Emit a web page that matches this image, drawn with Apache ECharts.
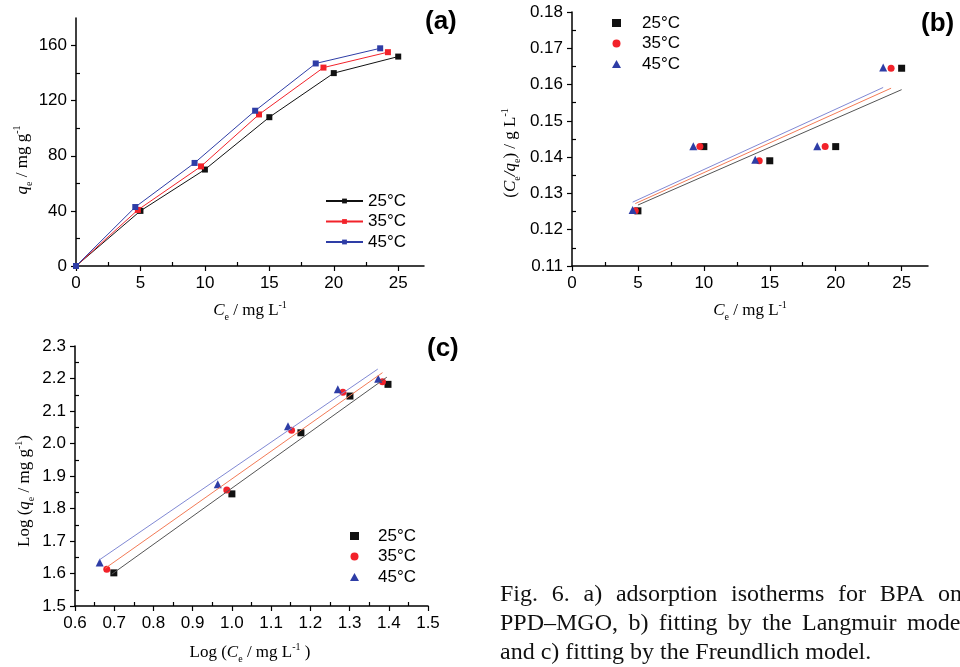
<!DOCTYPE html>
<html>
<head>
    <meta charset="utf-8">
    <title>Fig. 6 adsorption isotherms</title>
    <script src="https://cdn.jsdelivr.net/npm/echarts@6/dist/echarts.min.js"></script>
    <style>
        html, body { margin: 0; padding: 0; background: #fff; }
        #chart { width: 960px; height: 667px; }
    </style>
</head>
<body>
<div id="chart"></div>
<script type="text/javascript">
    // ---- data ----
    var labels = ['25°C', '35°C', '45°C'];

    // (a) adsorption isotherms: Ce (mg/L) vs qe (mg/g)
    var ceA25 = [0, 5, 10, 15, 20, 25];
    var qeA25 = [0, 40, 70, 108, 140, 152];
    var ceA35 = [0, 4.8, 9.7, 14.2, 19.2, 24.2];
    var qeA35 = [0, 40.7, 72.3, 110, 144, 155.2];
    var ceA45 = [0, 4.6, 9.2, 13.9, 18.6, 23.6];
    var qeA45 = [0, 42.8, 74.8, 112.7, 147, 158];

    // (b) Langmuir: Ce vs Ce/qe
    var ceB25 = [5, 10, 15, 20, 25];
    var ratioB25 = [0.1252, 0.1429, 0.1390, 0.1429, 0.1645];
    var ceB35 = [4.8, 9.7, 14.2, 19.2, 24.2];
    var ratioB35 = [0.1252, 0.1429, 0.1390, 0.1429, 0.1645];
    var ceB45 = [4.6, 9.2, 13.9, 18.6, 23.6];
    var ratioB45 = [0.1254, 0.1430, 0.1393, 0.1430, 0.1647];
    // fitted lines (end points)
    var fitBx25 = [5, 25],     fitBy25 = [0.1268, 0.1586];
    var fitBx35 = [4.8, 24.2], fitBy35 = [0.1272, 0.1590];
    var fitBx45 = [4.6, 23.6], fitBy45 = [0.1276, 0.1592];

    // (c) Freundlich: log Ce vs log qe
    var logCe25 = [0.699, 1.000, 1.176, 1.301, 1.398];
    var logQe25 = [1.602, 1.845, 2.033, 2.146, 2.182];
    var logCe35 = [0.681, 0.987, 1.152, 1.283, 1.384];
    var logQe35 = [1.613, 1.857, 2.041, 2.158, 2.190];
    var logCe45 = [0.663, 0.964, 1.143, 1.270, 1.373];
    var logQe45 = [1.634, 1.875, 2.053, 2.167, 2.199];
    var fitCx25 = [0.694, 1.395], fitCy25 = [1.598, 2.204];
    var fitCx35 = [0.677, 1.384], fitCy35 = [1.616, 2.218];
    var fitCx45 = [0.661, 1.372], fitCy45 = [1.641, 2.229];

    // tick values
    var ticksAX = [0, 5, 10, 15, 20, 25];
    var minorAX = [2.5, 7.5, 12.5, 17.5, 22.5];
    var ticksAY = [0, 40, 80, 120, 160];
    var minorAY = [20, 60, 100, 140];
    var ticksBY = [0.11, 0.12, 0.13, 0.14, 0.15, 0.16, 0.17, 0.18];
    var minorBY = [0.115, 0.125, 0.135, 0.145, 0.155, 0.165, 0.175];
    var ticksCX = [0.6, 0.7, 0.8, 0.9, 1.0, 1.1, 1.2, 1.3, 1.4, 1.5];
    var minorCX = [0.65, 0.75, 0.85, 0.95, 1.05, 1.15, 1.25, 1.35, 1.45];
    var ticksCY = [1.5, 1.6, 1.7, 1.8, 1.9, 2.0, 2.1, 2.2, 2.3];
    var minorCY = [1.55, 1.65, 1.75, 1.85, 1.95, 2.05, 2.15, 2.25];

    var captionLines = [
        'Fig. 6. a) adsorption isotherms for BPA onto',
        'PPD–MGO, b) fitting by the Langmuir model',
        'and c) fitting by the Freundlich model.'
    ];

    var colors = ['#111111', '#f2222a', '#2e3da6'];
    var fitColors = ['#555555', '#f37b57', '#8189d4'];
    var sans = '"Liberation Sans", Arial, sans-serif';
    var serif = '"Liberation Serif", "Times New Roman", serif';

    function pairs(xs, ys) {
        return xs.map(function (x, i) { return [x, ys[i]]; });
    }

    // main axis: ticks outward with labels
    function mainAxis(pos, grid, min, max, ticks, digits) {
        return {
            type: 'value', gridIndex: grid, min: min, max: max, position: pos,
            axisLine: {show: true, onZero: false, lineStyle: {color: '#000', width: 1.5}},
            axisTick: {show: true, inside: false, length: 5, customValues: ticks, lineStyle: {color: '#000', width: 1.2}},
            axisLabel: {
                customValues: ticks, margin: 9, color: '#000', fontFamily: sans, fontSize: 17,
                formatter: function (v) { return digits == null ? String(v) : Number(v).toFixed(digits); }
            },
            splitLine: {show: false}
        };
    }
    // minor axis: ticks inward, nothing else
    function minorAxis(pos, grid, min, max, ticks) {
        return {
            type: 'value', gridIndex: grid, min: min, max: max, position: pos, offset: 0,
            axisLine: {show: false, onZero: false},
            axisTick: {show: true, inside: true, length: 4, customValues: ticks, lineStyle: {color: '#000', width: 1.2}},
            axisLabel: {show: false},
            splitLine: {show: false}
        };
    }

    function legend(names, left, top, w, h, textPad) {
        return {
            data: names, left: left, top: top, orient: 'vertical', padding: 0,
            itemWidth: w, itemHeight: h, itemGap: 0.5, selectedMode: false,
            formatter: function (name) { return labels[names.indexOf(name)]; },
            textStyle: {fontFamily: sans, fontSize: 17, color: '#000', lineHeight: 20, padding: [0, 0, 0, textPad]}
        };
    }

    var richTitle = {
        n: {fontFamily: serif, fontSize: 17, lineHeight: 22, color: '#222'},
        i: {fontFamily: serif, fontSize: 17, lineHeight: 22, fontStyle: 'italic', color: '#222'},
        sub: {fontFamily: serif, fontSize: 10, lineHeight: 10, verticalAlign: 'bottom', color: '#222'},
        sup: {fontFamily: serif, fontSize: 10, lineHeight: 10, verticalAlign: 'top', color: '#222'}
    };
    function title(text, x, y, rot) {
        return {
            type: 'text', x: x, y: y, rotation: rot ? Math.PI / 2 : 0,
            style: {text: text, rich: richTitle, align: 'center', verticalAlign: 'middle'}
        };
    }
    function panelTag(text, x, y) {
        return {
            type: 'text', x: x, y: y,
            style: {text: text, fontFamily: sans, fontWeight: 'bold', fontSize: 26, fill: '#000', align: 'left', verticalAlign: 'middle'}
        };
    }

    // caption, justified like the printed column (last word start)
    var capFont = '24px "Liberation Serif", "Times New Roman", serif';
    var capLeft = 500;
    var capLastStart = [938, 907, null];
    var captionY = [595, 624, 653];
    var ctx = document.createElement('canvas').getContext('2d');
    ctx.font = capFont;
    var caption = [];
    captionLines.forEach(function (line, li) {
        var words = line.split(' ');
        var space = ctx.measureText(' ').width;
        if (capLastStart[li] != null) {
            var w = 0;
            for (var j = 0; j < words.length - 1; j++) w += ctx.measureText(words[j]).width;
            space = (capLastStart[li] - capLeft - w) / (words.length - 1);
        }
        var x = capLeft;
        words.forEach(function (word) {
            caption.push({
                type: 'text', x: x, y: captionY[li],
                style: {text: word, font: capFont, fill: '#111', align: 'left', verticalAlign: 'middle'}
            });
            x += ctx.measureText(word).width + space;
        });
    });

    var markerB = ['rect', 'circle', 'triangle'];
    var markerSize = [7, 7, 8];

    var series = [];
    // (a)
    [[ceA25, qeA25], [ceA35, qeA35], [ceA45, qeA45]].forEach(function (d, k) {
        series.push({
            name: 'a' + k, type: 'line', xAxisIndex: 0, yAxisIndex: 0,
            data: pairs(d[0], d[1]), symbol: 'rect', symbolSize: 6,
            lineStyle: {color: colors[k], width: 1}, itemStyle: {color: colors[k]}
        });
    });
    // (b) fits then points
    [[fitBx25, fitBy25], [fitBx35, fitBy35], [fitBx45, fitBy45]].forEach(function (d, k) {
        series.push({
            name: 'bfit' + k, type: 'line', xAxisIndex: 1, yAxisIndex: 1,
            data: pairs(d[0], d[1]), symbol: 'none', silent: true,
            lineStyle: {color: fitColors[k], width: 1}
        });
    });
    [[ceB25, ratioB25], [ceB35, ratioB35], [ceB45, ratioB45]].forEach(function (d, k) {
        series.push({
            name: 'b' + k, type: 'scatter', xAxisIndex: 1, yAxisIndex: 1,
            data: pairs(d[0], d[1]), symbol: markerB[k], symbolSize: markerSize[k],
            itemStyle: {color: colors[k], opacity: 1}
        });
    });
    // (c)
    [[fitCx25, fitCy25], [fitCx35, fitCy35], [fitCx45, fitCy45]].forEach(function (d, k) {
        series.push({
            name: 'cfit' + k, type: 'line', xAxisIndex: 2, yAxisIndex: 2,
            data: pairs(d[0], d[1]), symbol: 'none', silent: true,
            lineStyle: {color: fitColors[k], width: 1}
        });
    });
    [[logCe25, logQe25], [logCe35, logQe35], [logCe45, logQe45]].forEach(function (d, k) {
        series.push({
            name: 'c' + k, type: 'scatter', xAxisIndex: 2, yAxisIndex: 2,
            data: pairs(d[0], d[1]), symbol: markerB[k], symbolSize: markerSize[k],
            itemStyle: {color: colors[k], opacity: 1}
        });
    });

    var myChart = echarts.init(document.getElementById('chart'), null, {renderer: 'canvas'});
    myChart.setOption({
        animation: false,
        backgroundColor: '#fff',
        grid: [
            {left: 76, top: 18, width: 348, height: 248, outerBoundsMode: 'none'},
            {left: 572, top: 12, width: 356, height: 254, outerBoundsMode: 'none'},
            {left: 75, top: 346, width: 353, height: 260, outerBoundsMode: 'none'}
        ],
        xAxis: [
            mainAxis('bottom', 0, 0, 27, ticksAX, null),
            mainAxis('bottom', 1, 0, 27, ticksAX, null),
            mainAxis('bottom', 2, 0.6, 1.5, ticksCX, 1),
            minorAxis('bottom', 0, 0, 27, minorAX),
            minorAxis('bottom', 1, 0, 27, minorAX),
            minorAxis('bottom', 2, 0.6, 1.5, minorCX)
        ],
        yAxis: [
            mainAxis('left', 0, 0, 180, ticksAY, null),
            mainAxis('left', 1, 0.11, 0.18, ticksBY, 2),
            mainAxis('left', 2, 1.5, 2.3, ticksCY, 1),
            minorAxis('left', 0, 0, 180, minorAY),
            minorAxis('left', 1, 0.11, 0.18, minorBY),
            minorAxis('left', 2, 1.5, 2.3, minorCY)
        ],
        legend: [
            legend(['a0', 'a1', 'a2'], 325, 191, 37, 6, 0),
            legend(['b0', 'b1', 'b2'], 612, 13, 9, 8, 16),
            legend(['c0', 'c1', 'c2'], 350, 526, 9, 8, 14)
        ],
        graphic: [
            title('{i|q}{sub|e}{n| / mg g}{sup|-1}', 23, 160, true),
            title('{i|C}{sub|e}{n| / mg L}{sup|-1}', 250, 311, false),
            title('{n|(}{i|C}{sub|e}{i|/q}{sub|e}{n|) / g L}{sup|-1}', 511, 153, true),
            title('{i|C}{sub|e}{n| / mg L}{sup|-1}', 750, 311, false),
            title('{n|Log (}{i|q}{sub|e}{n| / mg g}{sup|-1}{n|)}', 25, 491, true),
            title('{n|Log (}{i|C}{sub|e}{n| / mg L}{sup|-1}{n| )}', 250, 653, false),
            panelTag('(a)', 425, 22),
            panelTag('(b)', 921, 24),
            panelTag('(c)', 427, 349)
        ].concat(caption),
        series: series
    });
</script>
</body>
</html>
